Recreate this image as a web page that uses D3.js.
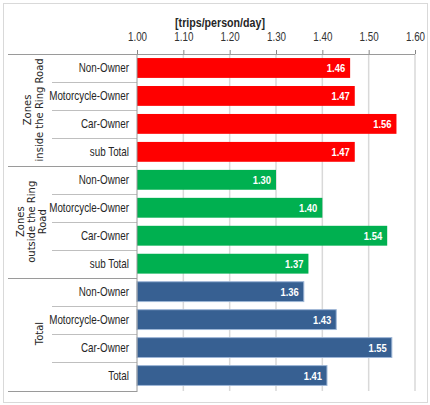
<!DOCTYPE html>
<html>
<head>
<meta charset="utf-8">
<script src="https://cdn.jsdelivr.net/npm/d3@7.9.0/dist/d3.min.js"></script>
<style>
  body { margin: 0; background: #fff; }
  svg { display: block; }
  .narrow { font-family: 'Liberation Sans', Arial, sans-serif; }
</style>
</head>
<body>
<svg width="430" height="405"></svg>
<script>
// data
const groupLabels = [["Zones", "inside the Ring Road"], ["Zones", "outside the Ring", "Road"], ["Total"]];
const categories = [
  ["Non-Owner", "Motorcycle-Owner", "Car-Owner", "sub Total"],
  ["Non-Owner", "Motorcycle-Owner", "Car-Owner", "sub Total"],
  ["Non-Owner", "Motorcycle-Owner", "Car-Owner", "Total"]
];
const insideValues = [1.46, 1.47, 1.56, 1.47];
const outsideValues = [1.30, 1.40, 1.54, 1.37];
const totalValues = [1.36, 1.43, 1.55, 1.41];
const tickValues = [1.00, 1.10, 1.20, 1.30, 1.40, 1.50, 1.60];
const unitLabel = "[trips/person/day]";

const colors = ["#ff0000", "#00b050", "#376092"];
const seriesValues = [insideValues, outsideValues, totalValues];
const squeeze = 0.82; // condensed look, no narrow font installed

let rows = [];
seriesValues.forEach((vals, g) => {
  vals.forEach((v, i) => {
    rows.push({ id: g + "-" + i, group: g, idx: i, label: categories[g][i], value: v });
  });
});

const svg = d3.select('svg');
const axisY = 54, bottomY = 391;
const leftX = 8, groupColRight = 52;
const groupLabelX = [33, 31, 39];

const x = d3.scaleLinear().domain([1.0, 1.6]).range([137, 415]);
const y = d3.scaleBand().domain(rows.map(d => d.id)).range([axisY, bottomY - 1.5])
  .paddingInner(0.29).paddingOuter(0.145);
const step = y.step();
const rowTop = (d) => y(d.id) - y.paddingInner() * step / 2;

// outer frame
svg.append('rect')
  .attr('x', 3.5).attr('y', 3.5).attr('width', 424).attr('height', 399)
  .attr('fill', 'none').attr('stroke', '#d9d9d9');

// gridlines
svg.append('g').selectAll('line')
  .data(tickValues.slice(1))
  .join('line')
  .attr('x1', d => x(d)).attr('x2', d => x(d))
  .attr('y1', axisY).attr('y2', bottomY)
  .attr('stroke', '#d9d9d9').attr('stroke-width', 1.5);

// axis
const axis = svg.append('g')
  .attr('class', 'narrow')
  .attr('transform', `translate(0,${axisY})`)
  .call(d3.axisTop(x).tickValues(tickValues).tickFormat(d3.format('.2f')).tickSize(4).tickSizeOuter(0).tickPadding(9));
axis.select('.domain').remove();
axis.selectAll('.tick line').attr('stroke', '#868686');
axis.selectAll('.tick text')
  .attr('font-size', 12).attr('fill', '#333')
  .attr('transform', `scale(${squeeze},1)`);

svg.append('text')
  .attr('class', 'narrow')
  .attr('transform', `translate(220,27) scale(${squeeze},1)`)
  .attr('text-anchor', 'middle')
  .attr('font-size', 13).attr('font-weight', 'bold').attr('fill', '#262626')
  .text(unitLabel);

// bars
svg.append('g').selectAll('rect')
  .data(rows)
  .join('rect')
  .attr('x', x(1.0))
  .attr('y', d => y(d.id))
  .attr('width', d => x(d.value) - x(1.0))
  .attr('height', y.bandwidth())
  .attr('fill', d => colors[d.group])
  .attr('stroke', d => d.group === 2 ? '#9db6d6' : 'none')
  .attr('stroke-width', 1);

// value labels
svg.append('g').selectAll('text')
  .data(rows)
  .join('text')
  .attr('class', 'narrow')
  .attr('transform', d => `translate(${x(d.value) - 5},${y(d.id) + y.bandwidth() / 2}) scale(${squeeze},1)`)
  .attr('dy', '0.36em')
  .attr('text-anchor', 'end')
  .attr('font-size', 11.5).attr('font-weight', 'bold')
  .attr('fill', '#fff')
  .text(d => d.value.toFixed(2));

// category labels
svg.append('g').selectAll('text')
  .data(rows)
  .join('text')
  .attr('class', 'narrow')
  .attr('transform', d => `translate(129,${y(d.id) + y.bandwidth() / 2}) scale(${squeeze},1)`)
  .attr('dy', '0.36em')
  .attr('text-anchor', 'end')
  .attr('font-size', 12)
  .attr('fill', '#262626')
  .text(d => d.label);

// separators in the category columns
const lineColor = '#9a9a9a';
svg.append('g').selectAll('line')
  .data(rows.filter(d => d.idx > 0))
  .join('line')
  .attr('x1', groupColRight).attr('x2', x(1.0))
  .attr('y1', d => Math.round(rowTop(d)) + 0.5).attr('y2', d => Math.round(rowTop(d)) + 0.5)
  .attr('stroke', '#bfbfbf');
svg.append('g').selectAll('line')
  .data(rows.filter(d => d.idx === 0 && d.group > 0))
  .join('line')
  .attr('x1', leftX).attr('x2', x(1.0))
  .attr('y1', d => Math.round(rowTop(d)) + 0.5).attr('y2', d => Math.round(rowTop(d)) + 0.5)
  .attr('stroke', lineColor);

// frame lines of the plot
svg.append('line')
  .attr('x1', leftX).attr('x2', x(1.6)).attr('y1', axisY + 0.5).attr('y2', axisY + 0.5)
  .attr('stroke', lineColor);
svg.append('line')
  .attr('x1', leftX).attr('x2', x(1.0)).attr('y1', bottomY + 0.5).attr('y2', bottomY + 0.5)
  .attr('stroke', lineColor);
svg.append('line')
  .attr('x1', x(1.0)).attr('x2', x(1.0)).attr('y1', axisY).attr('y2', bottomY + 1)
  .attr('stroke', lineColor);

// group labels (rotated)
groupLabels.forEach((lines, g) => {
  const groupRows = rows.filter(d => d.group === g);
  const top = rowTop(groupRows[0]);
  const bottom = rowTop(groupRows[groupRows.length - 1]) + step;
  const cy = (top + bottom) / 2;
  const lh = lines.length > 2 ? 11 : 12;
  const t = svg.append('text')
    .attr('transform', `translate(${groupLabelX[g]},${cy}) rotate(-90)`)
    .attr('text-anchor', 'middle')
    .attr('font-family', 'DejaVu Sans, sans-serif')
    .attr('font-size', 10)
    .attr('fill', '#262626');
  lines.forEach((ln, i) => {
    t.append('tspan')
      .attr('x', 0)
      .attr('y', (i - (lines.length - 1) / 2) * lh)
      .attr('dy', '0.35em')
      .text(ln);
  });
});
</script>
</body>
</html>
